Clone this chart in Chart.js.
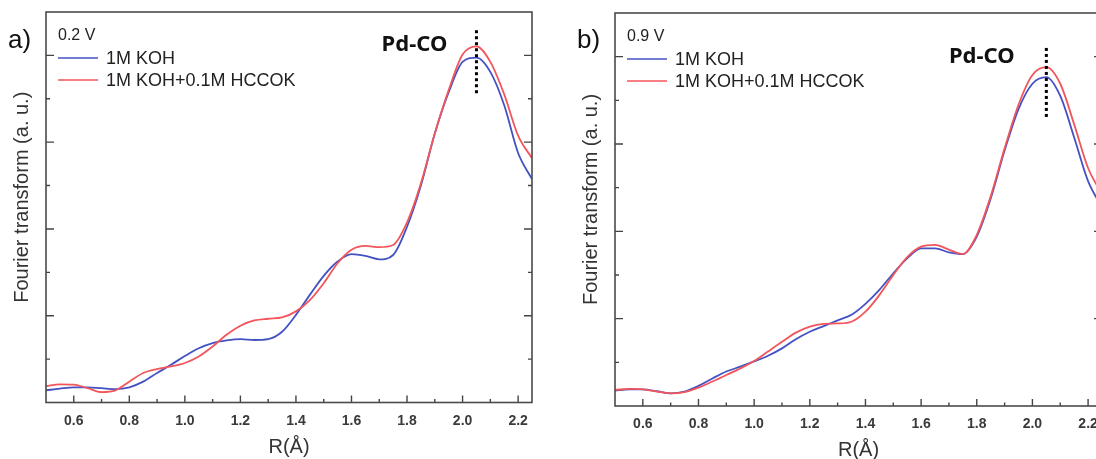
<!DOCTYPE html>
<html>
<head>
<meta charset="utf-8">
<script src="https://cdn.jsdelivr.net/npm/chart.js@4.4.0/dist/chart.umd.min.js"></script>
<style>
  html, body { margin: 0; padding: 0; background: #fff; overflow: hidden; }
  #wrap { position: relative; width: 1096px; height: 459px; overflow: hidden; }
  .panel { position: absolute; top: 0; width: 560px; height: 459px; }
  #pa { left: 0; }
  #pb { left: 560px; }
</style>
</head>
<body>
<div id="wrap">
  <div class="panel" id="pa"><canvas id="chartA"></canvas></div>
  <div class="panel" id="pb"><canvas id="chartB"></canvas></div>
</div>
<script>
// R (Å) sampling of the curves
var rValues = [0.50, 0.55, 0.60, 0.65, 0.70, 0.75, 0.80, 0.85, 0.90, 0.95,
               1.00, 1.05, 1.10, 1.15, 1.20, 1.25, 1.30, 1.35, 1.40, 1.45,
               1.50, 1.55, 1.60, 1.65, 1.70, 1.75, 1.80, 1.85, 1.90, 1.95,
               2.00, 2.05, 2.10, 2.15, 2.20, 2.25];

// a) 0.2 V
var kohA   = [0.28, 0.32, 0.35, 0.35, 0.33, 0.31, 0.35, 0.48, 0.68, 0.87,
              1.07, 1.25, 1.37, 1.43, 1.46, 1.44, 1.46, 1.63, 2.02, 2.48,
              2.92, 3.25, 3.42, 3.38, 3.30, 3.40, 4.05, 5.00, 6.20, 7.15,
              7.85, 7.95, 7.62, 6.85, 5.75, 5.15];
var hccokA = [0.38, 0.42, 0.41, 0.33, 0.24, 0.28, 0.48, 0.68, 0.77, 0.83,
              0.91, 1.06, 1.29, 1.56, 1.77, 1.89, 1.93, 1.96, 2.10, 2.36,
              2.75, 3.21, 3.52, 3.61, 3.58, 3.63, 4.15, 5.05, 6.20, 7.20,
              8.02, 8.21, 7.85, 7.10, 6.15, 5.63];

// b) 0.9 V
var kohB   = [0.35, 0.38, 0.38, 0.34, 0.29, 0.33, 0.46, 0.63, 0.79, 0.90,
              1.02, 1.15, 1.32, 1.53, 1.70, 1.83, 1.96, 2.09, 2.34, 2.66,
              3.04, 3.38, 3.61, 3.61, 3.52, 3.48, 3.88, 4.75, 5.85, 6.80,
              7.38, 7.53, 7.10, 6.15, 5.15, 4.55];
var hccokB = [0.37, 0.39, 0.38, 0.33, 0.29, 0.32, 0.42, 0.56, 0.71, 0.86,
              1.03, 1.25, 1.47, 1.68, 1.82, 1.88, 1.89, 1.93, 2.16, 2.54,
              3.00, 3.41, 3.65, 3.69, 3.58, 3.48, 3.92, 4.80, 5.90, 6.90,
              7.58, 7.76, 7.38, 6.45, 5.45, 4.85];

var seriesNames = ['1M KOH', '1M KOH+0.1M HCCOK'];
var xTickLabels = ['0.6', '0.8', '1.0', '1.2', '1.4', '1.6', '1.8', '2.0', '2.2'];
var xMinorTicks = [0.7, 0.9, 1.1, 1.3, 1.5, 1.7, 1.9, 2.1];
var yMajorTicks = [2, 4, 6, 8];
var yMinorTicks = [1, 3, 5, 7];
var peakR = 2.05;

var BLUE = '#4352c2';
var RED = '#f2555b';
var FONT = '"Liberation Sans", Arial, sans-serif';

// frame, inward ticks, legend and labels
var panelDecor = {
    id: 'panelDecor',
    afterDraw: function (chart, args, o) {
        var ctx = chart.ctx, a = chart.chartArea;
        var x = chart.scales.x, y = chart.scales.y;
        ctx.save();

        // inward ticks
        ctx.strokeStyle = '#444';
        ctx.lineWidth = 1.4;
        ctx.beginPath();
        xTickLabels.forEach(function (t) {
            var px = x.getPixelForValue(parseFloat(t));
            ctx.moveTo(px, a.bottom); ctx.lineTo(px, a.bottom - 7);
        });
        xMinorTicks.forEach(function (v) {
            var px = x.getPixelForValue(v);
            ctx.moveTo(px, a.bottom); ctx.lineTo(px, a.bottom - 3.5);
        });
        yMajorTicks.forEach(function (v) {
            var py = y.getPixelForValue(v);
            ctx.moveTo(a.left, py); ctx.lineTo(a.left + 8, py);
            ctx.moveTo(a.right, py); ctx.lineTo(a.right - 8, py);
        });
        yMinorTicks.forEach(function (v) {
            var py = y.getPixelForValue(v);
            ctx.moveTo(a.left, py); ctx.lineTo(a.left + 4, py);
            ctx.moveTo(a.right, py); ctx.lineTo(a.right - 4, py);
        });
        ctx.stroke();

        // frame
        ctx.strokeStyle = '#4a4a4a';
        ctx.lineWidth = 1.6;
        ctx.strokeRect(a.left, a.top, a.right - a.left, a.bottom - a.top);

        // dotted marker at the Pd-CO peak
        var pxPeak = x.getPixelForValue(peakR);
        ctx.strokeStyle = '#000';
        ctx.lineWidth = 3;
        ctx.setLineDash([3, 3]);
        ctx.beginPath();
        ctx.moveTo(pxPeak, y.getPixelForValue(o.dotTop));
        ctx.lineTo(pxPeak, y.getPixelForValue(o.dotBottom));
        ctx.stroke();
        ctx.setLineDash([]);

        ctx.fillStyle = '#111';
        ctx.textBaseline = 'middle';

        ctx.font = 'bold 22px "Noto Sans", ' + FONT;
        ctx.textAlign = 'center';
        ctx.fillText('Pd-CO', pxPeak + o.pdcoDx, y.getPixelForValue(o.pdcoY));

        // panel letter
        ctx.font = '26px ' + FONT;
        ctx.textAlign = 'left';
        ctx.fillText(o.letter, a.left - 38, 41);

        // legend
        ctx.fillStyle = '#222';
        ctx.font = '16px ' + FONT;
        ctx.fillText(o.voltage, a.left + 12, a.top + 24);
        ctx.font = '18px ' + FONT;
        chart.data.datasets.forEach(function (ds, i) {
            var ly = a.top + 46 + i * 22;
            ctx.strokeStyle = ds.borderColor;
            ctx.lineWidth = 1.6;
            ctx.beginPath();
            ctx.moveTo(a.left + 12, ly); ctx.lineTo(a.left + 52, ly);
            ctx.stroke();
            ctx.fillText(ds.label, a.left + 60, ly + 1);
        });

        // y axis title
        ctx.save();
        ctx.translate(a.left - 24, (a.top + a.bottom) / 2 - 10);
        ctx.rotate(-Math.PI / 2);
        ctx.textAlign = 'center';
        ctx.fillStyle = '#333';
        ctx.font = '20px ' + FONT;
        ctx.fillText('Fourier transform (a. u.)', 0, 0);
        ctx.restore();

        ctx.restore();
    }
};

function makePanel(canvasId, koh, hccok, o) {
    var layout = {
        type: 'line',
        data: {
            datasets: [{
                label: seriesNames[0],
                data: rValues.map(function (r, i) { return {x: r, y: koh[i]}; }),
                borderColor: BLUE,
                order: 1
            }, {
                label: seriesNames[1],
                data: rValues.map(function (r, i) { return {x: r, y: hccok[i]}; }),
                borderColor: RED,
                order: 0
            }]
        },
        options: {
            responsive: true,
            maintainAspectRatio: false,
            animation: false,
            layout: {
                padding: {left: o.padLeft, right: o.padRight, top: o.padTop, bottom: 0}
            },
            elements: {
                point: {radius: 0},
                line: {borderWidth: 1.8, cubicInterpolationMode: 'monotone', fill: false}
            },
            plugins: {
                legend: {display: false},
                tooltip: {enabled: false},
                panelDecor: o
            },
            scales: {
                x: {
                    type: 'linear',
                    min: 0.5,
                    max: 2.25,
                    grid: {display: false, drawTicks: false},
                    border: {display: false},
                    afterBuildTicks: function (scale) {
                        scale.ticks = xTickLabels.map(function (t) { return {value: parseFloat(t)}; });
                    },
                    afterFit: function (scale) { scale.height = o.axisH; },
                    ticks: {
                        padding: 10,
                        maxRotation: 0,
                        autoSkip: false,
                        color: '#3a3a3a',
                        font: {family: FONT, size: 14, weight: 'bold'},
                        callback: function (v, i) { return xTickLabels[i]; }
                    },
                    title: {
                        display: true,
                        text: 'R(Å)',
                        color: '#333',
                        font: {family: FONT, size: 20},
                        padding: {top: 0, bottom: o.titlePad}
                    }
                },
                y: {
                    display: false,
                    min: 0,
                    max: 9
                }
            }
        },
        plugins: [panelDecor]
    };
    return new Chart(document.getElementById(canvasId), layout);
}

makePanel('chartA', kohA, hccokA, {
    padLeft: 46, padRight: 28, padTop: 12, axisH: 56.5, titlePad: 0,
    letter: 'a)', voltage: '0.2 V', pdcoY: 8.24, pdcoDx: -62, dotTop: 8.58, dotBottom: 7.09
});
makePanel('chartB', kohB, hccokB, {
    padLeft: 55, padRight: 18, padTop: 13, axisH: 53, titlePad: -3,
    letter: 'b)', voltage: '0.9 V', pdcoY: 8.0, pdcoDx: -64.6, dotTop: 8.2, dotBottom: 6.6
});
</script>
</body>
</html>
